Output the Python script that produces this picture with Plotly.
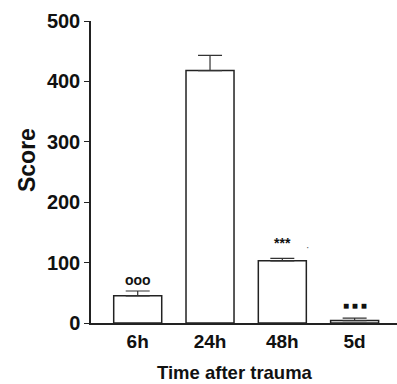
import plotly.graph_objects as go

categories = ["6h", "24h", "48h", "5d"]
scores = [45, 418, 103, 4]
errors = [8, 25, 4, 4]
marks = ["ooo", "", "***", "■ ■ ■"]
mark_y = [71, 0, 133, 29]
y_ticks = [0, 100, 200, 300, 400, 500]

FONT = "Liberation Sans, Arial, sans-serif"

fig = go.Figure()
fig.add_trace(go.Bar(
    x=list(range(len(categories))), y=scores, width=0.664,
    marker=dict(color="white", line=dict(color="#222", width=1.5)),
    error_y=dict(type="data", array=errors, symmetric=False, arrayminus=[0]*4,
                 color="#333", thickness=1.2, width=12),
))

for i, (m, my) in enumerate(zip(marks, mark_y)):
    if m:
        fig.add_annotation(x=i, y=my, text=f"<b>{m}</b>", showarrow=False,
                           font=dict(family=FONT, size=14 if m != "■ ■ ■" else 10,
                                     color="#111"),
                           xanchor="center", yanchor="middle")

fig.add_annotation(x=2.355, y=125, text="·", showarrow=False,
                   font=dict(family=FONT, size=10, color="#555"))

fig.add_annotation(xref="paper", yref="paper", x=(235 - 91) / 306, y=-(372.5 - 323.3) / 302.6,
                   text="<b>Time after trauma</b>", showarrow=False,
                   font=dict(family=FONT, size=18.5, color="#111"),
                   xanchor="center", yanchor="middle")
fig.add_annotation(xref="paper", yref="paper", x=-(91 - 27) / 306, y=(323.3 - 160) / 302.6,
                   text="<b>Score</b>", showarrow=False, textangle=-90,
                   font=dict(family=FONT, size=23, color="#111"),
                   xanchor="center", yanchor="middle")

fig.update_layout(
    width=397, height=384,
    margin=dict(l=91, r=0, t=21, b=61),
    plot_bgcolor="white", paper_bgcolor="white",
    showlegend=False,
    xaxis=dict(range=[-0.646, 3.586], tickvals=list(range(len(categories))),
               ticktext=[f"<b>{c}</b>" for c in categories],
               showline=True, linecolor="#222", linewidth=1.5, ticks="",
               showgrid=False, zeroline=False,
               tickfont=dict(family=FONT, size=19, color="#111")),
    yaxis=dict(range=[0, 500], tickvals=y_ticks,
               ticktext=[f"<b>{t}</b>" for t in y_ticks],
               showline=True, linecolor="#222", linewidth=1.5,
               ticks="outside", ticklen=5, tickcolor="#222", tickwidth=1.2,
               showgrid=False, zeroline=False,
               tickfont=dict(family=FONT, size=20, color="#111")),
)

fig.write_html("out.html", config={"displayModeBar": False},
               post_script="document.body.style.margin='0';")
